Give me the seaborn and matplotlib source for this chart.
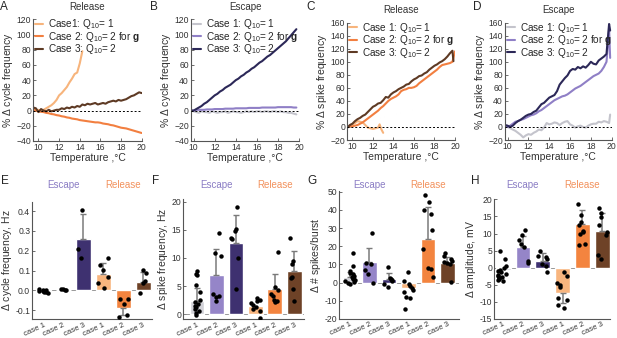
import numpy as np
import pandas as pd
import matplotlib.pyplot as plt
import matplotlib.transforms as mtransforms
import seaborn as sns

sns.set_style("ticks")
plt.rcParams["font.family"] = ["Liberation Sans", "DejaVu Sans"]
plt.rcParams["mathtext.fontset"] = "custom"
plt.rcParams["mathtext.rm"] = "Liberation Sans"
plt.rcParams["mathtext.it"] = "Liberation Sans:italic"
plt.rcParams["mathtext.bf"] = "Liberation Sans:bold"

# ---- colours
rel_cols = ["#f7b47c", "#f27f40", "#5e3a24"]
esc_cols = ["#c4c4cc", "#8f7fc6", "#2c2858"]
bar_cols = ["#d2d2d8", "#9585c8", "#3e3170", "#f8b57e", "#f3843f", "#6e4227"]

# ---- temperature sweep data (top row)
temp_full = [9.5, 9.75, 10.0, 10.25, 10.5, 10.75, 11.0, 11.25, 11.5, 11.75, 12.0, 12.25,
             12.5, 12.75, 13.0, 13.25, 13.5, 13.75, 14.0, 14.25, 14.5, 14.75, 15.0, 15.25,
             15.5, 15.75, 16.0, 16.25, 16.5, 16.75, 17.0, 17.25, 17.5, 17.75, 18.0, 18.25,
             18.5, 18.75, 19.0, 19.25, 19.5, 19.75, 20.0]

# A: release, cycle frequency
a_case1 = [1, 0, 1, -1, 1, 3, 5, 7, 10, 14, 20, 23, 27, 31, 37, 42, 48, 50, 62, 78]
a_case2 = [1, 0, -1, -1.5, -2, -3, -3.5, -4.5, -5, -6, -6.5, -7.5, -8, -9, -9.5, -10.5, -11,
           -11.5, -12.5, -13, -13.5, -14, -14.5, -15, -15.5, -15.5, -16, -17, -17.5, -18, -19,
           -19.5, -20.5, -21.5, -22.5, -23, -23.5, -24.5, -25.5, -26.5, -27.5, -28.5, -29.5]
a_case3 = [4, 3, -2, 2, 0, -1, 1, -1, 0, 1, 1, 3, 2, 4, 3, 5, 4, 6, 5, 8, 7, 9, 8, 9, 10, 8,
           9, 10, 9, 11, 12, 13, 12, 14, 13, 14, 15, 17, 19, 20, 22, 24, 23]

# B: escape, cycle frequency
b_case1 = [0, -1, -2, -3, -1, -2, -2, -3, -1, -2, -3, -2, -2, -1, -3, -2, -1, -2, -2, -3, -2,
           -1, -2, -1, -2, -1, -1, -2, -1, -1, -2, -1, -1, -2, -1, -2, -2, -3, -3, -4, -5]
b_case2 = [0, 0, 1, 1, 1, 1, 1.5, 1.5, 1.5, 2, 2, 2, 2, 2.5, 2.5, 2.5, 2.5, 3, 3, 3, 3, 3,
           3.5, 3.5, 3.5, 3.5, 3.5, 4, 4, 4, 4, 4, 4, 4.5, 4.5, 4.5, 4.5, 4.5, 4.5, 4, 4]
b_case3 = [0, 0, 2, 4, 6, 9, 11, 14, 17, 20, 22, 25, 27, 30, 32, 34, 37, 40, 42, 45, 47, 50,
           52, 55, 57, 60, 63, 65, 68, 71, 73, 76, 79, 82, 85, 88, 91, 95, 99, 103, 107]

# C: release, spike frequency
c_temp1 = [9.5, 9.75, 10.0, 10.25, 10.5, 10.75, 11.0, 11.25, 11.5, 11.75, 12.0, 12.25,
           12.5, 12.65, 12.8, 13.0]
c_case1 = [-1, 2, 4, 6, 9, 8, 7, 3, -1, -2, -3, -2, -1, 4, -3, -9]
c_case2 = [0, 1, 1, 2, 3, 5, 7, 10, 13, 16, 19, 22, 25, 29, 32, 36, 40, 43, 45, 47, 50, 55,
           57, 58, 60, 60, 61, 63, 67, 70, 73, 76, 79, 82, 85, 88, 92, 95, 96, 97, 98, 100, 116]
c_case3 = [-1, 3, 5, 9, 12, 14, 17, 19, 23, 27, 31, 33, 36, 37, 41, 46, 45, 50, 53, 55, 58,
           60, 62, 65, 66, 70, 73, 75, 78, 79, 82, 84, 88, 91, 94, 96, 99, 101, 104, 108,
           113, 117, 101]

# D: escape, spike frequency
d_case1 = [2, 0, -2, -4, -6, -9, -12, -16, -13, -11, -12, -9, -7, -4, -5, -1, 6, 4, 5, 7, 6,
           3, 6, 8, 9, 4, 2, -1, 1, 2, 0, -1, 2, 4, 5, 5, 8, 7, 9, 8, 6, 19]
d_case2 = [2, 0, 2, 5, 8, 9, 11, 12, 14, 16, 18, 19, 21, 24, 26, 29, 32, 35, 38, 41, 43, 45,
           47, 48, 50, 53, 56, 59, 61, 63, 66, 69, 72, 75, 78, 80, 82, 86, 92, 100, 150, 106]
d_case3 = [3, 2, 0, 2, 6, 9, 11, 14, 17, 19, 20, 23, 25, 30, 35, 37, 41, 45, 47, 49, 55, 65,
           70, 75, 79, 86, 89, 88, 92, 90, 93, 91, 95, 100, 97, 96, 102, 105, 108, 112, 158, 148]

# ---- bar data (bottom row)
conds = ["esc1", "esc2", "esc3", "rel1", "rel2", "rel3"]
case_labels = ["case 1", "case 2", "case 3", "case 1", "case 2", "case 3"]

e_mean = [-0.005, 0.005, 0.26, 0.085, -0.087, 0.045]
e_tip = [-0.005, 0.005, 0.385, 0.14, -0.123, 0.095]
e_pts = [[0.008, 0.002, -0.005, -0.01, -0.012, -0.008, 0.004, -0.003],
         [0.01, 0.008, 0.004, 0.002],
         [0.405, 0.21, 0.162],
         [0.165, 0.13, 0.105, 0.068, 0.04, 0.015],
         [-0.045, -0.045, -0.07, -0.125, -0.135],
         [0.105, 0.088, 0.05, 0.04, -0.015]]

f_mean = [2.3, 7.0, 12.7, 1.4, 4.5, 7.7]
f_tip = [4.6, 11.5, 17.6, 1.4, 7.1, 11.2]
f_pts = [[7.7, 7.2, 7.0, 5.1, 4.0, 2.5, 2.1, 1.8, 1.5, 1.3, 1.0, 0.6, 0.2, -0.2],
         [14.5, 10.8, 10.3, 3.6, 3.3, 3.0, 2.3],
         [19.0, 15.2, 14.8, 13.5, 13.3, 10.0, 4.5],
         [2.8, 2.6, 2.4, 2.0, 1.6, 1.2, 0.9, 0.5, -0.7],
         [11.1, 4.8, 4.3, 3.6, 3.2, 2.6, 2.3, 2.1],
         [13.5, 9.4, 9.0, 6.6, 6.5, 4.4, 2.3]]

g_mean = [3.3, 11.2, 2.1, -2.9, 24.2, 10.6]
g_tip = [6.0, 19.2, 5.5, -2.9, 41.8, 14.3]
g_pts = [[16.3, 9.2, 6.5, 5.5, 4.5, 3.5, 3.0, 2.5, 1.5, 1.0, 0.5, 0.0, -0.5, 2.0],
         [27.5, 11.0, 10.2, 7.0, 4.5, 0.0],
         [8.8, 2.5, 2.0, 1.5, 1.0, -1.0, -2.2],
         [5.8, 0.8, -0.5, -1.8, -3.0, -4.2, -5.2, -8.0, -8.5, -14.5],
         [48.0, 44.5, 40.0, 37.5, 29.0, 18.3, 7.8, 7.3, 3.0],
         [16.2, 14.8, 12.8, 11.8, 11.2, 10.8, 10.0, 0.3]]

h_mean = [-0.7, 6.0, 2.1, -7.4, 12.8, 10.8]
h_tip = [-0.7, 9.2, 4.3, -10.3, 17.0, 16.1]
h_pts = [[5.0, 2.5, 0.5, -0.2, -0.6, -1.0, -1.4, -1.8, -2.0, -2.3, -2.6, -2.9, -3.2, -3.5, -3.8],
         [11.0, 9.7, 8.0, 7.0, 6.0, 2.0, 1.5],
         [5.0, 3.5, 3.0, 2.5, 1.0, 0.5, -1.3],
         [-1.2, -2.3, -4.5, -5.2, -5.6, -9.0, -9.5, -11.0, -11.8],
         [18.5, 15.5, 13.5, 12.5, 10.8, 10.3, 10.0, 7.0, 6.5],
         [17.5, 16.0, 14.8, 12.5, 10.5, 9.5, 3.6, 2.6]]

W, H = 617, 338
fig = plt.figure(figsize=(W / 100, H / 100), dpi=100)


def px_axes(left, top, right, bottom):
    return fig.add_axes([left / W, 1 - bottom / H, (right - left) / W, (bottom - top) / H])


def style(ax):
    sns.despine(ax=ax)
    for s in ["left", "bottom"]:
        ax.spines[s].set_color("#555555")
        ax.spines[s].set_linewidth(0.8)
    ax.tick_params(labelsize=6.2, length=2, width=0.6, pad=1.5, colors="#555555",
                   labelcolor="#333333", direction="in")


tk = dict(fontsize=7.5, color="#333333", labelpad=1)
leg_kw = dict(loc="upper left", frameon=False, fontsize=7.2, handlelength=0.8,
              handletextpad=0.5, labelspacing=-0.15, borderaxespad=0, borderpad=0,
              bbox_to_anchor=(0.02, 1.015))

# ---- top row
top_specs = [
    ("A", "Release", (33.3, 19.3, 141.7, 141), (9.5, 20), (-40, 120), "% $\\Delta$ cycle frequency",
     [(temp_full[:len(a_case1)], a_case1, "Case1: Q$_{10}$= 1"),
      (temp_full, a_case2, "Case 2: Q$_{10}$= 2 for $\\mathbf{g}$"),
      (temp_full, a_case3, "Case 3: Q$_{10}$= 2")], rel_cols),
    ("B", "Escape", (191, 19.3, 299, 141), (9.75, 20), (-40, 120), "% $\\Delta$ cycle frequency",
     [(temp_full[1:42], b_case1, "Case 1: Q$_{10}$= 1"),
      (temp_full[1:42], b_case2, "Case 2: Q$_{10}$= 2 for $\\mathbf{g}$"),
      (temp_full[1:42], b_case3, "Case 3: Q$_{10}$= 2")], esc_cols),
    ("C", "Release", (347.3, 22.7, 455, 140), (9.5, 20), (-20, 160), "% $\\Delta$ spike frequency",
     [(c_temp1, c_case1, "Case 1: Q$_{10}$= 1"),
      (temp_full, c_case2, "Case 2: Q$_{10}$= 2 for $\\mathbf{g}$"),
      (temp_full[:42] + [19.85], c_case3, "Case 3: Q$_{10}$= 2")], rel_cols),
    ("D", "Escape", (505, 22.7, 611.7, 140), (9.75, 20), (-20, 160), "% $\\Delta$ spike frequency",
     [(temp_full[1:42] + [19.85], d_case1, "Case 1: Q$_{10}$= 1"),
      (temp_full[1:42] + [19.85], d_case2, "Case 2: Q$_{10}$= 2 for $\\mathbf{g}$"),
      (temp_full[1:42] + [19.85], d_case3, "Case 3: Q$_{10}$= 2")], esc_cols),
]
letter_x = {"A": 0, "B": 150, "C": 306, "D": 473, "E": 1, "F": 152, "G": 307, "H": 471}

for letter, title, box, xl, yl, ylab, curves, cols in top_specs:
    ax = px_axes(*box)
    for (t, v, lab), c in zip(curves, cols):
        sns.lineplot(x=t, y=v, color=c, lw=1.5, label=lab, ax=ax, sort=False)
    ax.axhline(0, color="k", lw=0.7, ls=(0, (2, 2)), zorder=5)
    ax.set_xlim(*xl)
    ax.set_ylim(*yl)
    ax.set_xticks([10, 12, 14, 16, 18, 20])
    ax.set_yticks(np.arange(yl[0], yl[1] + 1, 20))
    ax.set_xlabel("Temperature ,\u00b0C", **tk)
    ax.set_ylabel(ylab, **tk)
    ax.set_title(title, fontsize=7, color="#333333", pad=7)
    style(ax)
    ax.legend(**leg_kw)
    fig.text(letter_x[letter] / W, 1 - 1 / H, letter, fontsize=8.5, va="top", ha="left")

# ---- bottom row
bot_specs = [
    ("E", (32.3, 201.7, 152, 319.3), (-0.55, 5.45), (-0.145, 0.447),
     [-0.1, 0.0, 0.1, 0.2, 0.3, 0.4], "$\\Delta$ cycle frequency, Hz", e_mean, e_tip, e_pts, "%.1f"),
    ("F", (183.3, 199.3, 304, 319.3), (-0.7, 5.5), (-0.9, 20.4),
     [0, 5, 10, 15, 20], "$\\Delta$ spike frequency, Hz", f_mean, f_tip, f_pts, "%d"),
    ("G", (339.3, 191, 459, 319), (-0.55, 5.6), (-20, 50.4),
     [-20, -10, 0, 10, 20, 30, 40, 50], "$\\Delta$ # spikes/burst", g_mean, g_tip, g_pts, "%d"),
    ("H", (494.3, 199.3, 610, 319), (-0.45, 5.4), (-15, 20),
     [-15, -10, -5, 0, 5, 10, 15, 20], "$\\Delta$ amplitude, mV", h_mean, h_tip, h_pts, "%d"),
]

np.random.seed(7)
for letter, box, xl, yl, yt, ylab, means, tips, pts, fmt in bot_specs:
    ax = px_axes(*box)
    bars = pd.DataFrame({"cond": conds, "val": means})
    sns.barplot(data=bars, x="cond", y="val", hue="cond", palette=bar_cols, order=conds,
                legend=False, width=0.75, errorbar=None, saturation=1, ax=ax, zorder=2)
    ax.axhline(0, color="#888888", lw=0.6, zorder=1)
    for i, (m, tp) in enumerate(zip(means, tips)):
        if tp == m:
            continue
        lo, hi = (0, tp - m) if tp > m else (m - tp, 0)
        ax.errorbar(i, m, yerr=[[lo], [hi]], color="#7a7a7a", lw=1.1, capsize=2,
                    capthick=1.0, zorder=3)
    long = pd.DataFrame({"cond": [c for c, p in zip(conds, pts) for _ in p],
                         "val": [v for p in pts for v in p]})
    sns.stripplot(data=long, x="cond", y="val", order=conds, color="k", size=3.2,
                  jitter=0.27, linewidth=0, ax=ax, zorder=4)
    ax.set_xlim(*xl)
    ax.set_ylim(*yl)
    ax.set_yticks(yt)
    ax.yaxis.set_major_formatter(plt.FormatStrFormatter(fmt))
    ax.set_xticks(range(6))
    ax.set_xticklabels(case_labels, rotation=25, ha="right", rotation_mode="anchor")
    ax.set_xlabel("")
    ax.set_ylabel(ylab, **tk)
    style(ax)
    ax.tick_params(axis="x", length=0, pad=1.5, labelsize=5.6)
    tr = mtransforms.blended_transform_factory(ax.transData, fig.transFigure)
    ax.text(1, 1 - 185 / H, "Escape", transform=tr, ha="center", va="center",
            fontsize=7, color="#8a7cc4")
    ax.text(4, 1 - 185 / H, "Release", transform=tr, ha="center", va="center",
            fontsize=7, color="#f2915c")
    fig.text(letter_x[letter] / W, 1 - 175 / H, letter, fontsize=8.5, va="top", ha="left")

fig.savefig("out.png", dpi=100)
